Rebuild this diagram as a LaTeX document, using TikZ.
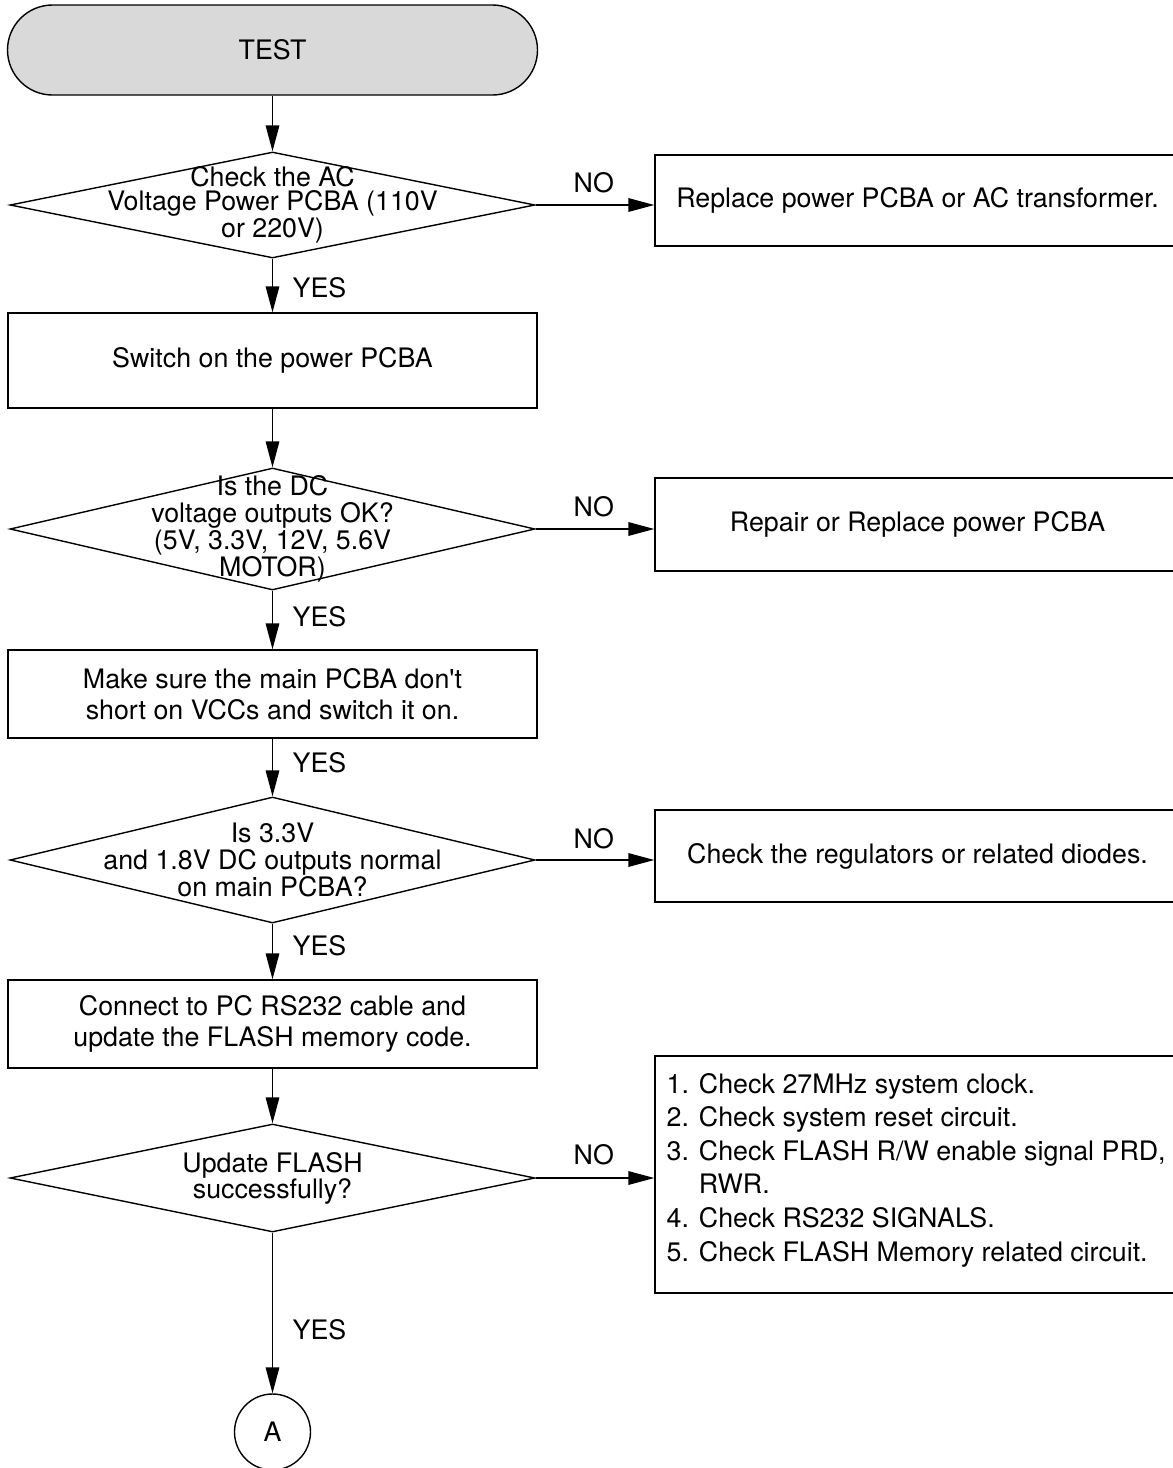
\documentclass[tikz,border=0pt]{standalone}
\usepackage{fontspec}
\setmainfont{TeX Gyre Heros}[Ligatures=TeXOff]
\usetikzlibrary{shapes.geometric,arrows.meta}
\definecolor{termgray}{RGB}{217,217,217}

\begin{document}
\begin{tikzpicture}[x=0.5pt,y=0.5pt,yscale=-1,xscale=1,line width=0.7pt,
        txt/.style={font={\fontsize{13.4}{15.5}\selectfont}},
        box/.style={draw,txt,align=center,inner sep=0pt,minimum width=264.5pt},
        rbox/.style={draw,txt,align=center,inner sep=0pt,minimum width=262.5pt},
        dia/.style={draw,diamond,inner sep=0pt,minimum width=262.5pt},
        lbl/.style={txt,inner sep=0pt,anchor=west},
        arr/.style={-{Triangle[length=13pt,width=6.8pt]}}]
        \useasboundingbox (0,0) rectangle (1173,1468);
        % left column
        \node [draw,fill=termgray,rounded corners=22.5pt,minimum width=265pt,minimum height=45pt,txt] (term) at (272.5,50) {TEST};
        \node [dia,minimum height=53pt] (d1) at (272.5,205) {};
        \node [align=center,font={\fontsize{13.4}{12}\selectfont}] (d1t) at (d1) {Check the AC\\Voltage Power PCBA (110V\\or 220V)};
        \node [box,minimum height=47.5pt] (b2) at (272.5,360.5) {Switch on the power PCBA};
        \node [dia,minimum height=61pt] (d2) at (272.5,529) {};
        \node [align=center,font={\fontsize{13.4}{13.5}\selectfont}] (d2t) at (d2) {Is the DC\\voltage outputs OK?\\(5V, 3.3V, 12V, 5.6V\\MOTOR)};
        \node [box,minimum height=44pt] (b3) at (272.5,694) {Make sure the main PCBA don't\\short on VCCs and switch it on.};
        \node [dia,minimum height=63pt] (d3) at (272.5,860) {};
        \node [align=center,font={\fontsize{13.4}{13.5}\selectfont}] (d3t) at (d3) {Is 3.3V\\and 1.8V DC outputs normal\\on main PCBA?};
        \node [box,minimum height=44pt] (b4) at (272.5,1024) {Connect to PC RS232 cable and\\update the FLASH memory code.};
        \node [dia,minimum height=54pt] (d4) at (272.5,1178) {};
        \node [align=center,font={\fontsize{13.4}{13}\selectfont}] (d4t) at (d4) {Update FLASH\\successfully?};
        \node [draw,circle,minimum size=38pt,inner sep=0pt,txt] (A) at (272.5,1432) {A};
        % right column
        \node [rbox,minimum height=45.5pt] (r1) at (917.5,200.5) {Replace power PCBA or AC transformer.};
        \node [rbox,minimum height=46.5pt] (r2) at (917.5,524.5) {Repair or Replace power PCBA};
        \node [rbox,minimum height=46pt] (r3) at (917.5,856) {Check the regulators or related diodes.};
        \node [draw,minimum width=262.5pt,minimum height=118.5pt] (r4) at (917.5,1174.5) {};
        \node [anchor=west,align=left,inner sep=0pt,font={\fontsize{13.4}{16.8}\selectfont}] (r4t) at (666,1170) {1. Check 27MHz system clock.\\2. Check system reset circuit.\\3. Check FLASH R/W enable signal PRD,\\\hphantom{3. }RWR.\\4. Check RS232 SIGNALS.\\5. Check FLASH Memory related circuit.};
        % connectors
        \draw [arr] (term.south) -- (d1.north);
        \draw [arr] (d1.south) -- (b2.north);
        \draw [arr] (b2.south) -- (d2.north);
        \draw [arr] (d2.south) -- (b3.north);
        \draw [arr] (b3.south) -- (d3.north);
        \draw [arr] (d3.south) -- (b4.north);
        \draw [arr] (b4.south) -- (d4.north);
        \draw [arr] (d4.south) -- (A.north);
        \draw [arr] (d1.east) -- (d1.east -| r1.west);
        \draw [arr] (d2.east) -- (d2.east -| r2.west);
        \draw [arr] (d3.east) -- (d3.east -| r3.west);
        \draw [arr] (d4.east) -- (d4.east -| r4.west);
        % labels
        \node [lbl] (yes1) at (292,288) {YES};
        \node [lbl] (yes2) at (292,617) {YES};
        \node [lbl] (yes3) at (292,763) {YES};
        \node [lbl] (yes4) at (292,946) {YES};
        \node [lbl] (yes5) at (292,1330) {YES};
        \node [lbl] (no1) at (573,183) {NO};
        \node [lbl] (no2) at (573,507) {NO};
        \node [lbl] (no3) at (573,839) {NO};
        \node [lbl] (no4) at (573,1155) {NO};
\end{tikzpicture}
\end{document}
